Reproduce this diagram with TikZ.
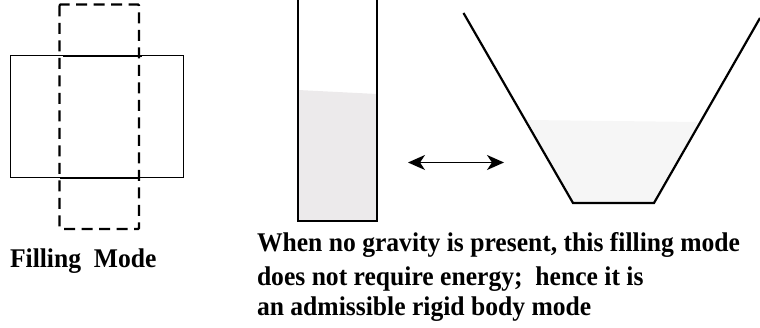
\documentclass[tikz,border=0pt]{standalone}
\usepackage{graphicx}
\usepackage{fontspec}
\setmainfont{Liberation Serif}
\usetikzlibrary{arrows.meta}
\definecolor{tankfill}{HTML}{ECEAEB}
\definecolor{funnelfill}{HTML}{F6F6F6}
\newcommand{\narrowtext}[1]{\scalebox{.948}[1]{#1}}
\tikzset{
  thinline/.style={draw=black,line width=1pt},
  midline/.style={draw=black,line width=1.8pt},
  wall/.style={draw=black,line width=2.2pt},
  dashbox/.style={draw=black,line width=2.2pt,dash pattern=on 11pt off 6.5pt,rounded corners=1pt},
  label/.style={inner sep=0pt,outer sep=0pt,anchor=base west,font=\bfseries\fontsize{27}{27}\selectfont},
  swap/.style={{Stealth[length=17pt,width=15pt,inset=5pt]}-{Stealth[length=17pt,width=15pt,inset=5pt]},line width=1.2pt}
}
\begin{document}
\begin{tikzpicture}[x=1pt,y=-1pt]
\useasboundingbox (0,0) rectangle (760,328);
% left sketch
\draw[thinline] (10,56) rectangle (183,178);
\draw[midline] (63,56.3) -- (142,56.3);
\draw[midline] (60,178) -- (138,178);
\draw[dashbox] (59.5,4.5) rectangle (139,229);
% tank
\fill[tankfill] (298,90) -- (377,94) -- (377,221) -- (298,221) -- cycle;
\draw[wall] (298,0) -- (298,221) -- (377,221) -- (377,0);
% arrow
\coordinate (a) at (408,162.5);
\coordinate (b) at (504,162.5);
\draw[swap] (a) -- (b);
% funnel
\fill[funnelfill] (527,120) -- (698,122) -- (654,203) -- (573,203) -- cycle;
\draw[wall] (463.5,13) -- (573,203) -- (654,203) -- (760,18);
% text
\node[label] (t0) at (10,267.5) {\narrowtext{Filling\ \ Mode}};
\node[label] (t1) at (257,252) {\narrowtext{When no gravity is present, this filling mode}};
\node[label] (t2) at (257,286) {\narrowtext{does not require energy;\ \ hence it is}};
\node[label] (t3) at (257,316) {\narrowtext{an admissible rigid body mode}};
\end{tikzpicture}
\end{document}
